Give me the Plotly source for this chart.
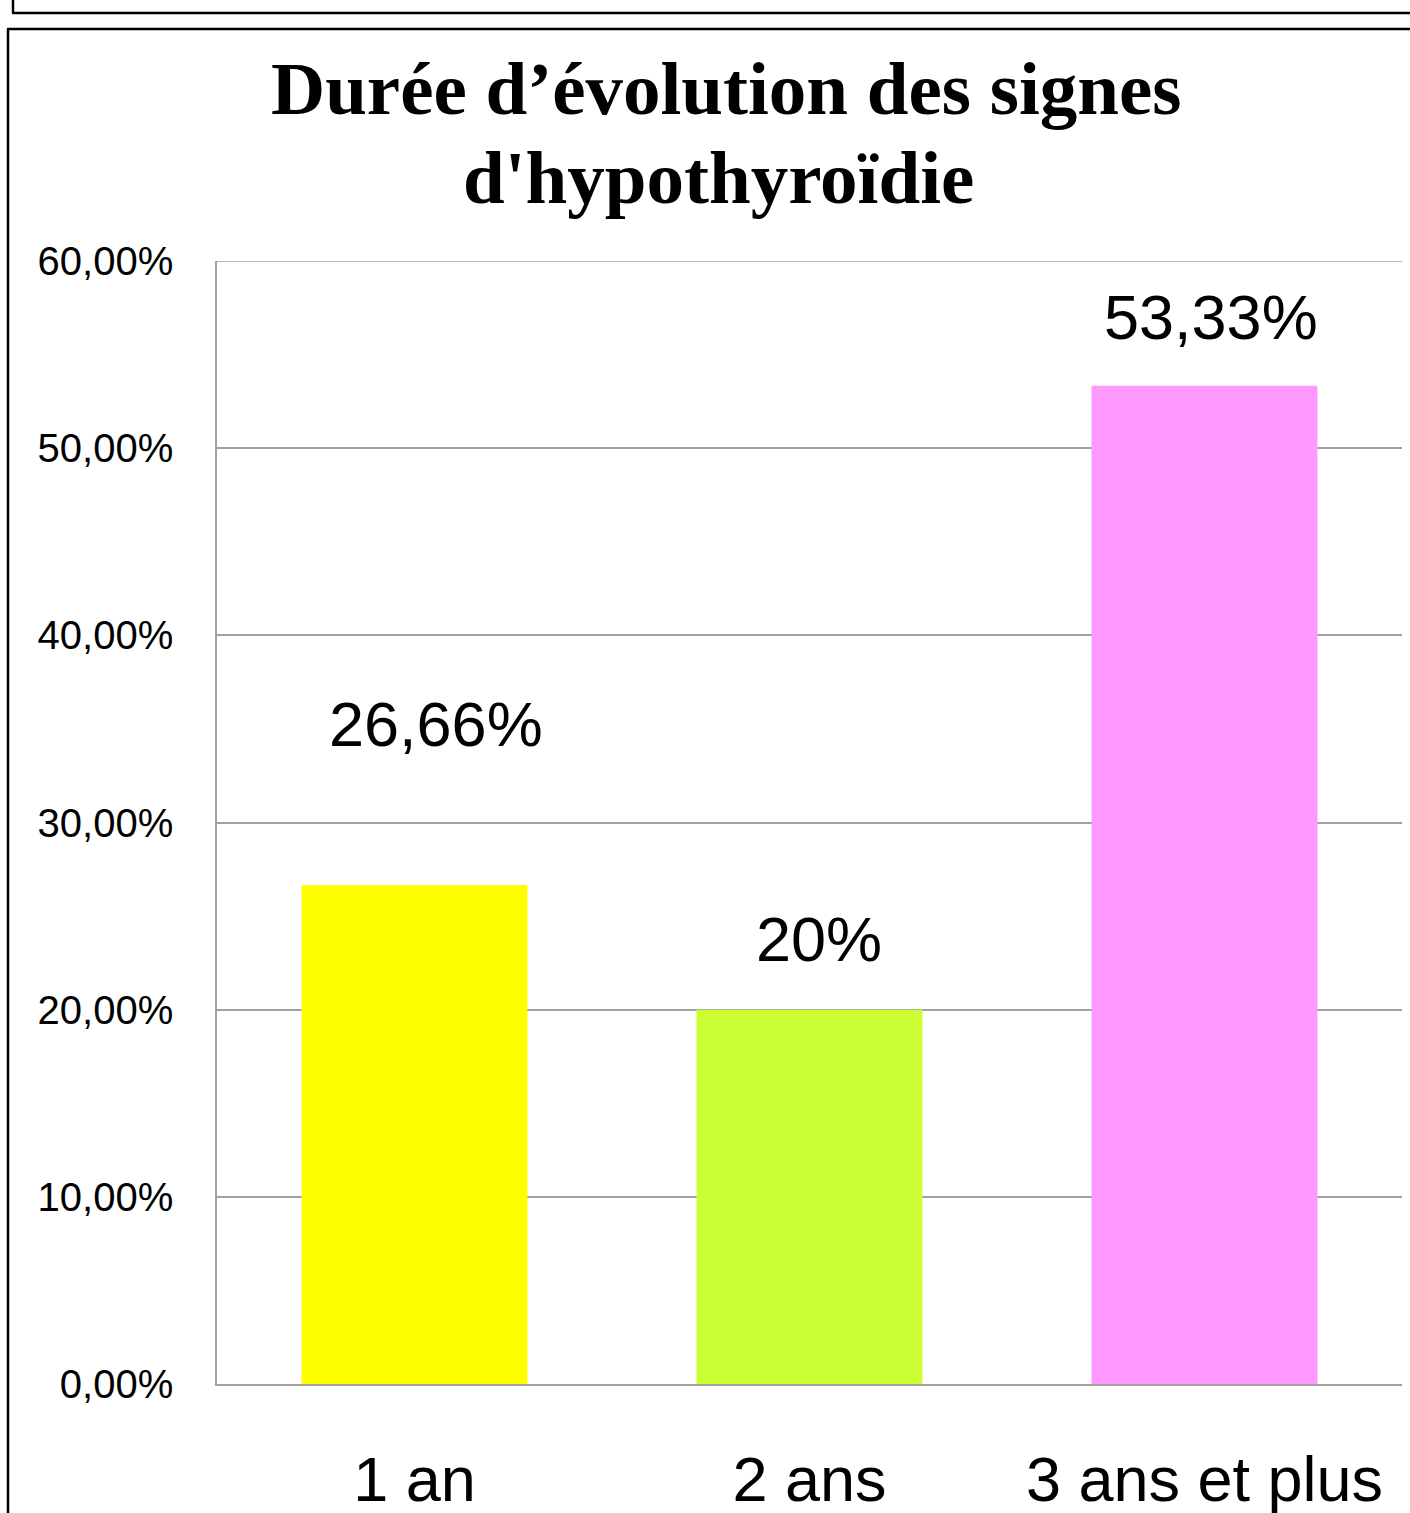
import plotly.graph_objects as go

# ---- data ----
categories = ["1 an", "2 ans", "3 ans et plus"]
values = [0.2666, 0.20, 0.5333]
value_labels = ["26,66%", "20%", "53,33%"]
bar_colors = ["#FFFF00", "#CCFF33", "#FF99FF"]
y_tickvals = [0, 0.1, 0.2, 0.3, 0.4, 0.5, 0.6]
y_ticktext = ["0,00%", "10,00%", "20,00%", "30,00%", "40,00%", "50,00%", "60,00%"]
title_lines = ["Durée d’évolution des signes", "d'hypothyroïdie"]

# ---- layout geometry (pixels) ----
W, H = 1410, 1513
L, R, T, B = 217, 8, 261, 129
PW, PH = W - L - R, H - T - B

def px(x):
    return (x - L) / PW

def py(y):
    return 1 - (y - T) / PH

label_shift = [161, 71, 69]
label_xshift = [21, 9, 6]

fig = go.Figure()
fig.add_trace(go.Bar(
    x=categories, y=values, marker=dict(color=bar_colors, line=dict(width=0)),
    width=0.572, hoverinfo="skip"))

annotations = []
for c, v, t, s, xs in zip(categories, values, value_labels, label_shift, label_xshift):
    annotations.append(dict(
        x=c, y=v, xref="x", yref="y", text=t, showarrow=False,
        yanchor="middle", yshift=s, xshift=xs,
        font=dict(family="Liberation Sans, Arial", size=63, color="black")))

annotations.append(dict(x=px(726), y=py(89), xref="paper", yref="paper",
                        text=f"<b>{title_lines[0]}</b>", showarrow=False,
                        xanchor="center", yanchor="middle",
                        font=dict(family="Liberation Serif, Times New Roman", size=75, color="black")))
annotations.append(dict(x=px(718), y=py(177), xref="paper", yref="paper",
                        text=f"<b>{title_lines[1]}</b>", showarrow=False,
                        xanchor="center", yanchor="middle",
                        font=dict(family="Liberation Serif, Times New Roman", size=75, color="black")))

lw = 2.5
shapes = [
    dict(type="line", xref="paper", yref="paper", x0=px(12), x1=px(1420), y0=py(13), y1=py(13),
         line=dict(color="black", width=lw)),
    dict(type="line", xref="paper", yref="paper", x0=px(13), x1=px(13), y0=py(-5), y1=py(13),
         line=dict(color="black", width=lw)),
    dict(type="line", xref="paper", yref="paper", x0=px(7), x1=px(1420), y0=py(29), y1=py(29),
         line=dict(color="black", width=lw)),
    dict(type="line", xref="paper", yref="paper", x0=px(8), x1=px(8), y0=py(29), y1=py(1520),
         line=dict(color="black", width=lw)),
    # top gridline at the axis maximum
    dict(type="line", xref="paper", yref="y", x0=0, x1=1, y0=y_tickvals[-1], y1=y_tickvals[-1],
         line=dict(color="#a0a0a0", width=1.5), layer="below"),
]

fig.update_layout(
    width=W, height=H,
    margin=dict(l=L, r=R, t=T, b=B, pad=0, autoexpand=False),
    paper_bgcolor="white", plot_bgcolor="white",
    showlegend=False,
    bargap=0.428,
    annotations=annotations,
    shapes=shapes,
    xaxis=dict(
        type="category", showgrid=False, showline=True, linecolor="#a0a0a0", linewidth=1.5,
        ticks="", tickfont=dict(family="Liberation Sans, Arial", size=63, color="black"),
        ticklabelstandoff=40, zeroline=False, fixedrange=True, automargin=False),
    yaxis=dict(
        range=[0, 0.6], tickvals=y_tickvals, ticktext=y_ticktext,
        showgrid=True, gridcolor="#a0a0a0", gridwidth=1.5,
        showline=True, linecolor="#a0a0a0", linewidth=1.5, zeroline=False,
        ticks="", tickfont=dict(family="Liberation Sans, Arial", size=40, color="black"),
        ticklabelstandoff=34, fixedrange=True, automargin=False),
)

fig.write_html("out.html", config={"displayModeBar": False},
               post_script="document.body.style.margin='0px';document.body.style.overflow='hidden';")
